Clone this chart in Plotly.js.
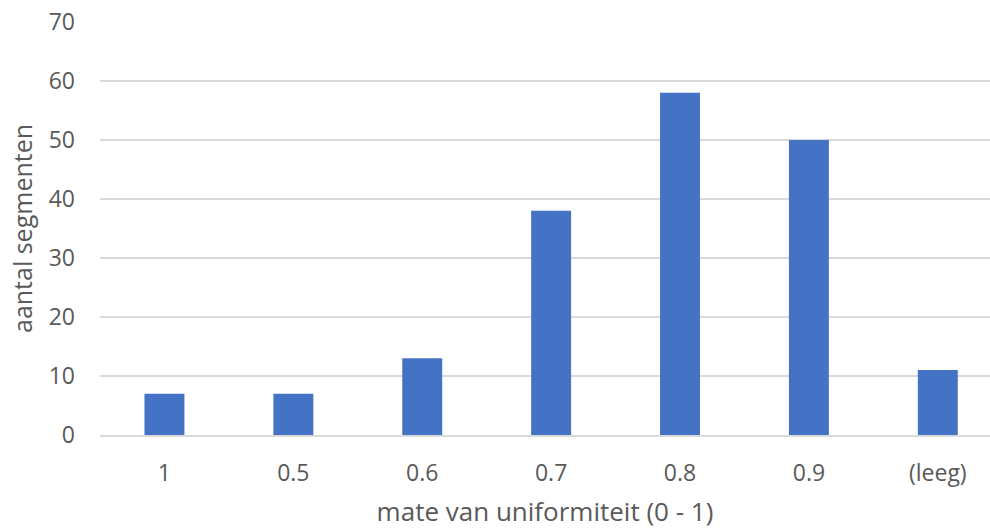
<!DOCTYPE html>
<html>
<head>
<meta charset="utf-8">
<script src="https://cdn.plot.ly/plotly-3.0.1.min.js"></script>
<style>html,body{margin:0;padding:0;background:#fff;}#chart{width:990px;height:529px;}</style>
</head>
<body>
<div id="chart"></div>
<script>
const categories = ["1", "0.5", "0.6", "0.7", "0.8", "0.9", "(leeg)"];
const counts = [7, 7, 13, 38, 58, 50, 11];
const xTitle = "mate van uniformiteit (0 - 1)";
const yTitle = "aantal segmenten";

const font = "'Segoe UI', 'Open Sans', 'Noto Sans', sans-serif";
const textColor = "#595959";

Plotly.newPlot("chart", [{
  type: "bar",
  x: categories,
  y: counts,
  marker: {color: "#4472C4", line: {width: 0}},
  hoverinfo: "x+y"
}], {
  width: 990,
  height: 529,
  margin: {l: 100, r: 0, t: 22, b: 94},
  paper_bgcolor: "#fff",
  plot_bgcolor: "#fff",
  bargap: 0.69,
  showlegend: false,
  font: {family: font, color: textColor, size: 23},
  xaxis: {
    type: "category",
    range: [-0.5, 6.405],
    showgrid: false,
    showline: true,
    linecolor: "#D9D9D9",
    linewidth: 1.5,
    ticks: "",
    ticklabelstandoff: 17,
    tickfont: {family: font, color: textColor, size: 23},
    title: {text: xTitle, font: {family: font, color: textColor, size: 26}, standoff: 15}
  },
  yaxis: {
    range: [0, 70],
    dtick: 10,
    showgrid: true,
    gridcolor: "#D9D9D9",
    gridwidth: 1.5,
    zeroline: false,
    showline: false,
    ticks: "",
    ticklabelstandoff: 24,
    tickfont: {family: font, color: textColor, size: 23},
    title: {text: yTitle, font: {family: font, color: textColor, size: 25}, standoff: 8}
  }
}, {displayModeBar: false, staticPlot: true});
</script>
</body>
</html>
